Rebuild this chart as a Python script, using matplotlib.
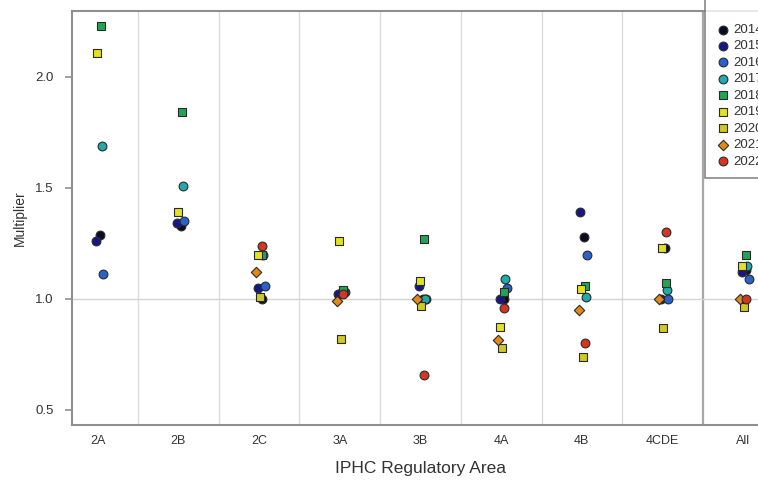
import numpy as np
import matplotlib
matplotlib.use("Agg")
import matplotlib.pyplot as plt

# ---- data -------------------------------------------------------------
areas = ["2A", "2B", "2C", "3A", "3B", "4A", "4B", "4CDE", "All"]
years = ["2014", "2015", "2016", "2017", "2018", "2019", "2020", "2021", "2022"]
nan = np.nan

m2014 = [1.29, 1.33, 1.00, 1.03, 1.00, 1.00, 1.28, 1.23, 1.13]
m2015 = [1.26, 1.34, 1.05, 1.02, 1.06, 1.00, 1.39, 1.00, 1.12]
m2016 = [1.11, 1.35, 1.06, 1.03, 1.00, 1.05, 1.20, 1.00, 1.09]
m2017 = [1.69, 1.51, 1.20, 1.03, 1.00, 1.09, 1.01, 1.04, 1.15]
m2018 = [2.23, 1.84, 1.20, 1.04, 1.27, 1.03, 1.06, 1.07, 1.20]
m2019 = [2.11, 1.39, 1.20, 1.26, 1.08, 0.875, 1.045, 1.23, 1.15]
m2020 = [nan, nan, 1.01, 0.82, 0.97, 0.78, 0.74, 0.87, 0.965]
m2021 = [nan, nan, 1.12, 0.99, 1.00, 0.815, 0.95, 1.00, 1.00]
m2022 = [nan, nan, 1.24, 1.02, 0.655, 0.96, 0.80, 1.30, 1.00]

series = [m2014, m2015, m2016, m2017, m2018, m2019, m2020, m2021, m2022]

# ---- styling ----------------------------------------------------------
colors = ["#0b0b26", "#16168a", "#2a62c8", "#22aaaa", "#22a455",
          "#e2e21e", "#cfc827", "#e48a14", "#d6361e"]
markers = ["o", "o", "o", "o", "s", "s", "s", "D", "o"]
sizes = [40, 40, 40, 40, 36, 36, 36, 28, 40]
offsets = [0.03, -0.02, 0.07, 0.05, 0.04, -0.01, 0.01, -0.04, 0.04]

plt.rcParams["font.family"] = ["Liberation Sans", "DejaVu Sans"]
text_col = "#333333"
spine_col = "#8f8f8f"

W, H = 758, 488
fig = plt.figure(figsize=(W / 100, H / 100), dpi=100)

ax_left, ax_right = 72, 769
ax_top, ax_bottom = 11, 425
ax = fig.add_axes([ax_left / W, 1 - ax_bottom / H,
                   (ax_right - ax_left) / W, (ax_bottom - ax_top) / H])

x = np.arange(len(areas))
ax.set_xlim(-0.32, 8.32)
ax.set_ylim(0.432, 2.297)

# category separators and reference line
for b in np.arange(0.5, len(areas) - 1, 1.0):
    if b == 7.5:
        ax.axvline(b, color="#a8a8a8", lw=1.6, zorder=1)
    else:
        ax.axvline(b, color="#dcdcdc", lw=1.0, zorder=1)
ax.axhline(1.0, color="#d4d4d4", lw=1.0, zorder=1)

handles = []
for i, (yr, vals) in enumerate(zip(years, series)):
    h = ax.scatter(x + offsets[i], vals, s=sizes[i], marker=markers[i],
                   facecolor=colors[i], edgecolor="#2a2a2a", linewidths=0.8,
                   zorder=3 + i, label=yr)
    handles.append(h)

ax.set_xticks(x)
ax.set_xticklabels(areas)
ax.set_yticks([0.5, 1.0, 1.5, 2.0])
ax.set_yticklabels(["0.5", "1.0", "1.5", "2.0"])
ax.tick_params(axis="x", length=0, pad=7, labelsize=9, labelcolor=text_col)
ax.tick_params(axis="y", length=5, width=1.2, color=spine_col, pad=8,
               labelsize=9.5, labelcolor=text_col)

for side in ["left", "bottom", "top", "right"]:
    ax.spines[side].set_color(spine_col)
    ax.spines[side].set_linewidth(1.5)

ax.set_xlabel("IPHC Regulatory Area", fontsize=12.5, color=text_col, labelpad=10)
ax.set_ylabel("Multiplier", fontsize=10, color=text_col, labelpad=6)

leg = fig.legend(handles=handles, loc="upper left",
                 bbox_to_anchor=(705 / W, 1 + 6 / H),
                 bbox_transform=fig.transFigure, borderaxespad=0,
                 title=" ", title_fontsize=12,
                 fontsize=9.5, frameon=True, fancybox=False,
                 handletextpad=0.25, labelspacing=0.32, borderpad=0.8,
                 handlelength=1.1, markerscale=1.0)
leg.get_frame().set_edgecolor("#6a6a6a")
leg.get_frame().set_linewidth(1.2)
for t in leg.get_texts():
    t.set_color(text_col)

fig.savefig("out.png", dpi=100)
